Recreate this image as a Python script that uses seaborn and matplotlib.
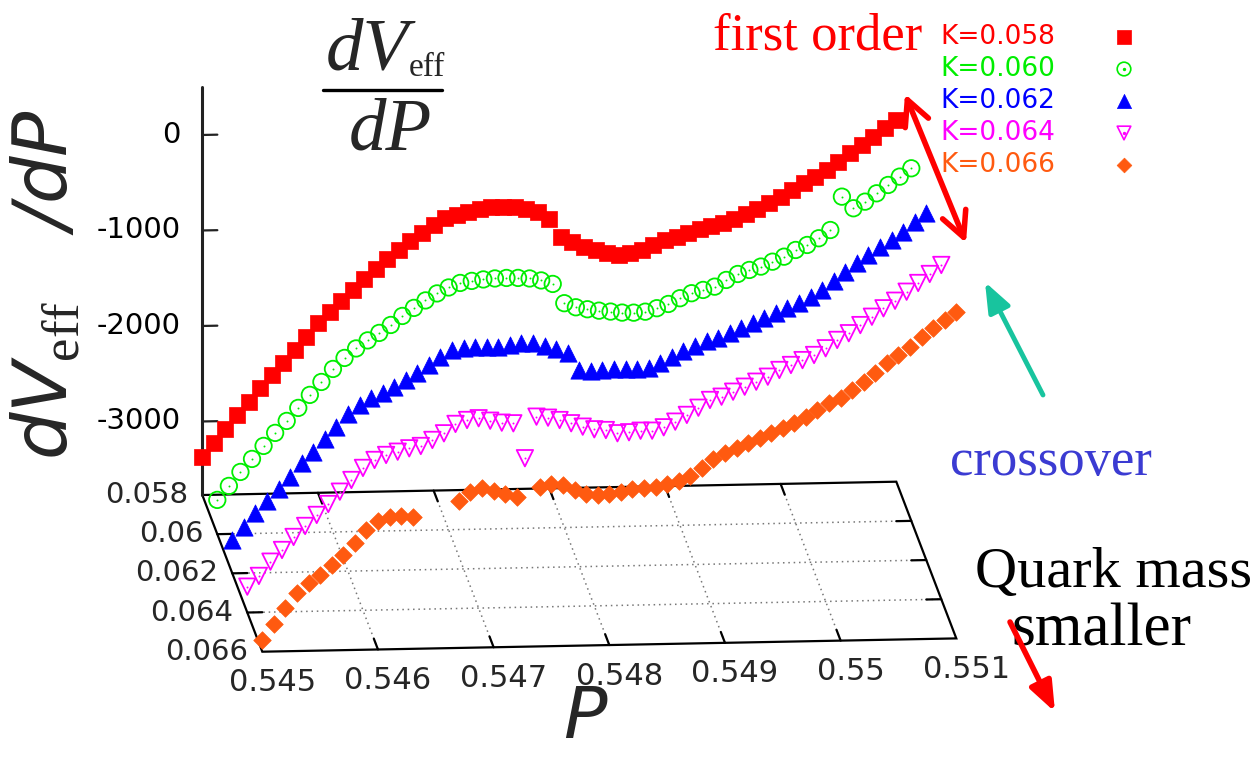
import numpy as np
import pandas as pd
import matplotlib
matplotlib.use("Agg")
import matplotlib.pyplot as plt
import seaborn as sns

# ---------------- data ----------------
P_VALUES = np.round(np.linspace(0.545, 0.551, 61), 4)
K_LEVELS = [0.058, 0.060, 0.062, 0.064, 0.066]
K_LABELS = ["K=0.058", "K=0.060", "K=0.062", "K=0.064", "K=0.066"]
nan = np.nan
DV_K058 = [-3368, -3224, -3083, -2939, -2808, -2664, -2527, -2407, -2270, -2133,
           -1995, -1882, -1763, -1653, -1540, -1438, -1336, -1244, -1152, -1070,
           -988, -918, -889, -860, -830, -817, -811, -817, -840, -874,
           -949, -1137, -1191, -1246, -1283, -1320, -1340, -1325, -1293, -1243,
           -1192, -1160, -1127, -1085, -1055, -1026, -986, -936, -887, -826,
           -765, -694, -628, -563, -492, -410, -319, -237, -156, -64, 18]
DV_K060 = [-3411, -3267, -3123, -2989, -2855, -2721, -2598, -2464, -2330, -2197,
           -2063, -1950, -1853, -1771, -1695, -1614, -1522, -1440, -1364, -1293,
           -1233, -1188, -1169, -1156, -1148, -1145, -1147, -1155, -1178, -1217,
           -1421, -1466, -1489, -1506, -1518, -1531, -1534, -1526, -1492, -1450,
           -1392, -1342, -1310, -1278, -1210, -1150, -1110, -1077, -1028, -978,
           -910, -860, -792, -708, -361, -485, -418, -333, -248, -163, -78]
DV_K062 = [-3420, -3289, -3144, -3015, -2898, -2768, -2630, -2511, -2384, -2254,
           -2124, -2032, -1964, -1914, -1853, -1779, -1711, -1627, -1542, -1474,
           -1459, -1445, -1447, -1449, -1434, -1418, -1421, -1451, -1488, -1532,
           -1709, -1719, -1714, -1709, -1711, -1713, -1706, -1656, -1595, -1528,
           -1481, -1428, -1405, -1355, -1305, -1255, -1205, -1155, -1105, -1055,
           -988, -921, -829, -734, -648, -563, -479, -411, -326, -224, -138]
DV_K064 = [-3499, -3389, -3242, -3122, -2988, -2875, -2762, -2650, -2523, -2403,
           -2279, -2198, -2148, -2116, -2083, -2061, -2000, -1933, -1837, -1798,
           -1782, -1810, -1833, -1842, -2210, -1777, -1790, -1817, -1853, -1891,
           -1921, -1931, -1967, -1959, -1945, -1947, -1914, -1857, -1789, -1716,
           -1637, -1605, -1555, -1505, -1455, -1405, -1337, -1287, -1238, -1187,
           -1119, -1034, -966, -883, -798, -712, -635, -543, -454, -362, -270]
DV_K066 = [-3647, -3481, -3319, -3162, -3062, -2978, -2875, -2773, -2647, -2516,
           -2424, -2381, -2377, -2392, nan, nan, nan, -2228, -2136, -2102,
           -2130, -2167, -2204, nan, -2097, -2072, -2085, -2139, -2183, -2196,
           -2188, -2166, -2143, -2135, -2120, -2095, -2063, -2015, -1934, -1843,
           -1785, -1735, -1685, -1635, -1585, -1535, -1478, -1418, -1351, -1283,
           -1232, -1148, -1063, -978, -875, -790, -706, -604, -518, -433, -349]
SERIES = [DV_K058, DV_K060, DV_K062, DV_K064, DV_K066]

Z_TICKS = [0, -1000, -2000, -3000]
P_TICKS = [0.545, 0.546, 0.547, 0.548, 0.549, 0.550, 0.551]
P_TICK_LABELS = ["0.545", "0.546", "0.547", "0.548", "0.549", "0.55", "0.551"]
K_TICKS = [0.058, 0.060, 0.062, 0.064, 0.066]
K_TICK_LABELS = ["0.058", "0.06", "0.062", "0.064", "0.066"]

# ---------------- styles ----------------
COLORS = ["#ff0000", "#00ee00", "#0000ff", "#ff00ff", "#ff5a10"]
MARKERS = ["s", "o", "^", "v", "D"]
FILLED = [True, False, True, False, True]
SIZES = [125, 140, 155, 140, 80]
LEG_SIZES = [110, 120, 130, 120, 70]

# view geometry (gnuplot-like orthographic projection, pixels)
P_MIN, P_MAX = 0.545, 0.551
K_MIN, K_MAX = 0.058, 0.066
Z_BASE, Z_TOP = -3770.0, 500.0
X0, Y0 = 202.3, 495.0
PX, PY = 694.0, -13.3
KX, KY = 60.0, 156.7
ZS = 0.0955


def proj(p, k, z):
    p = np.asarray(p, dtype=float)
    k = np.asarray(k, dtype=float)
    z = np.asarray(z, dtype=float)
    u = (p - P_MIN) / (P_MAX - P_MIN)
    v = (k - K_MIN) / (K_MAX - K_MIN)
    sx = X0 + u * PX + v * KX
    sy = Y0 + u * PY + v * KY - (z - Z_BASE) * ZS
    return sx, sy


sns.set_theme(style="white")
plt.rcParams["font.family"] = ["DejaVu Sans"]
plt.rcParams["mathtext.fontset"] = "custom"
plt.rcParams["mathtext.it"] = "DejaVu Sans:italic"
plt.rcParams["mathtext.rm"] = "Liberation Serif"

fig = plt.figure(figsize=(12.58, 7.6), dpi=100)
ax = fig.add_axes([0, 0, 1, 1])
ax.set_xlim(0, 1258)
ax.set_ylim(760, 0)
ax.axis("off")

# ---------------- base plane grid ----------------
grid_kw = dict(color="#777777", lw=1.1, ls=(0, (1, 2.5)), zorder=1)
for p in P_TICKS[1:-1]:
    xs, ys = proj([p, p], [K_MIN, K_MAX], [Z_BASE, Z_BASE])
    ax.plot(xs, ys, **grid_kw)
for k in K_TICKS[1:-1]:
    xs, ys = proj([P_MIN, P_MAX], [k, k], [Z_BASE, Z_BASE])
    ax.plot(xs, ys, **grid_kw)

# border
bx, by = proj([P_MIN, P_MAX, P_MAX, P_MIN, P_MIN],
              [K_MIN, K_MIN, K_MAX, K_MAX, K_MIN], [Z_BASE] * 5)
ax.plot(bx, by, color="black", lw=1.6, zorder=2, solid_joinstyle="miter")

tick_kw = dict(color="black", lw=1.6, zorder=2)
dk = 0.00055
dp = 0.00013
for p in P_TICKS[1:-1]:
    xs, ys = proj([p, p], [K_MIN, K_MIN + dk], [Z_BASE, Z_BASE])
    ax.plot(xs, ys, **tick_kw)
    xs, ys = proj([p, p], [K_MAX, K_MAX - dk], [Z_BASE, Z_BASE])
    ax.plot(xs, ys, **tick_kw)
for k in K_TICKS[1:-1]:
    xs, ys = proj([P_MIN, P_MIN + dp], [k, k], [Z_BASE, Z_BASE])
    ax.plot(xs, ys, **tick_kw)
    xs, ys = proj([P_MAX, P_MAX - dp], [k, k], [Z_BASE, Z_BASE])
    ax.plot(xs, ys, **tick_kw)

# z axis
zx, zy = proj([P_MIN, P_MIN], [K_MIN, K_MIN], [Z_BASE, Z_TOP])
ax.plot(zx, zy, color="#222222", lw=2.2, zorder=2)
for z in Z_TICKS:
    xs, ys = proj([P_MIN, P_MIN + dp * 1.0], [K_MIN, K_MIN], [z, z])
    ax.plot(xs, ys, color="#222222", lw=1.6, zorder=2)
    ax.text(xs[0] - 22, ys[0], f"{z}", ha="right", va="center", fontsize=21,
            color="black")

# tick labels
for k, lab in zip(K_TICKS, K_TICK_LABELS):
    sx, sy = proj(P_MIN, k, Z_BASE)
    ax.text(sx - 14, sy, lab, ha="right", va="center", fontsize=21)
for p, lab in zip(P_TICKS, P_TICK_LABELS):
    sx, sy = proj(p, K_MAX, Z_BASE)
    ax.text(sx + 10, sy + 31, lab, ha="center", va="center", fontsize=22)

# ---------------- data points ----------------
for k, vals, c, m, filled, s in zip(K_LEVELS, SERIES, COLORS, MARKERS, FILLED, SIZES):
    sx, sy = proj(P_VALUES, np.full(len(P_VALUES), k), np.array(vals, dtype=float))
    df = pd.DataFrame({"sx": sx, "sy": sy}).dropna()
    if filled:
        sns.scatterplot(data=df, x="sx", y="sy", ax=ax, marker=m, s=s, color=c,
                        edgecolor=c, linewidth=0.5, zorder=4, legend=False)
    else:
        sns.scatterplot(data=df, x="sx", y="sy", ax=ax, marker=m, s=s, color=c,
                        facecolor="none", edgecolor=c, linewidth=1.3, zorder=4,
                        legend=False)
        sns.scatterplot(data=df, x="sx", y="sy", ax=ax, marker="o", s=2, color=c,
                        edgecolor=c, linewidth=0, zorder=4, legend=False)

ax.set_xlim(0, 1258)
ax.set_ylim(760, 0)
ax.set_xlabel("")
ax.set_ylabel("")

# ---------------- legend ----------------
for i, (lab, c, m, filled, s) in enumerate(zip(K_LABELS, COLORS, MARKERS, FILLED, LEG_SIZES)):
    y = 37 + 32 * i
    ax.text(940, y, lab, color=c, fontsize=19, ha="left", va="center")
    if filled:
        ax.scatter([1124], [y], marker=m, s=s * 0.8, color=c, edgecolor=c, lw=0.5)
    else:
        ax.scatter([1124], [y], marker=m, s=s * 0.8, facecolor="none", edgecolor=c, lw=1.2)
        ax.scatter([1124], [y], marker="o", s=2, color=c)

# ---------------- axis titles ----------------
ax.text(45, 285, r"$dV_{\mathrm{eff}}$   /dP", rotation=90, ha="center",
        va="center", fontsize=54, style="italic")
ax.text(585, 718, "P", ha="center", va="center", fontsize=52, style="italic")

# fraction label
serif = "Liberation Serif"
ax.text(409, 70, "dV", ha="right", va="baseline", fontsize=54, family=serif,
        style="italic")
ax.text(409, 76, "eff", ha="left", va="baseline", fontsize=24, family=serif)
ax.plot([323, 442], [90, 90], color="black", lw=2.4)
ax.text(390, 150, "dP", ha="center", va="baseline", fontsize=54, family=serif,
        style="italic")

# ---------------- annotations ----------------
ax.text(713, 50, "first order", color="red", fontsize=38, family=serif,
        ha="left", va="baseline")
ax.text(950, 475, "crossover", color="#3b3bd2", fontsize=38, family=serif,
        ha="left", va="baseline")
ax.text(975, 587, "Quark mass", color="black", fontsize=42, family=serif,
        ha="left", va="baseline")
ax.text(1012, 645, "smaller", color="black", fontsize=44, family=serif,
        ha="left", va="baseline")

ax.annotate("", xy=(905, 94), xytext=(966, 243),
            arrowprops=dict(arrowstyle="<->,head_length=0.9,head_width=0.45",
                            color="red", lw=4, mutation_scale=20,
                            shrinkA=0, shrinkB=0))
ax.annotate("", xy=(985, 282), xytext=(1043, 395),
            arrowprops=dict(arrowstyle="-|>,head_length=0.9,head_width=0.35",
                            color="#18c49e", lw=3.5, mutation_scale=20,
                            shrinkA=0, shrinkB=0))
ax.annotate("", xy=(1055, 712), xytext=(1010, 622),
            arrowprops=dict(arrowstyle="-|>,head_length=0.9,head_width=0.35",
                            color="red", lw=4, mutation_scale=20,
                            shrinkA=0, shrinkB=0))

fig.savefig("out.png", dpi=100, facecolor="white")
